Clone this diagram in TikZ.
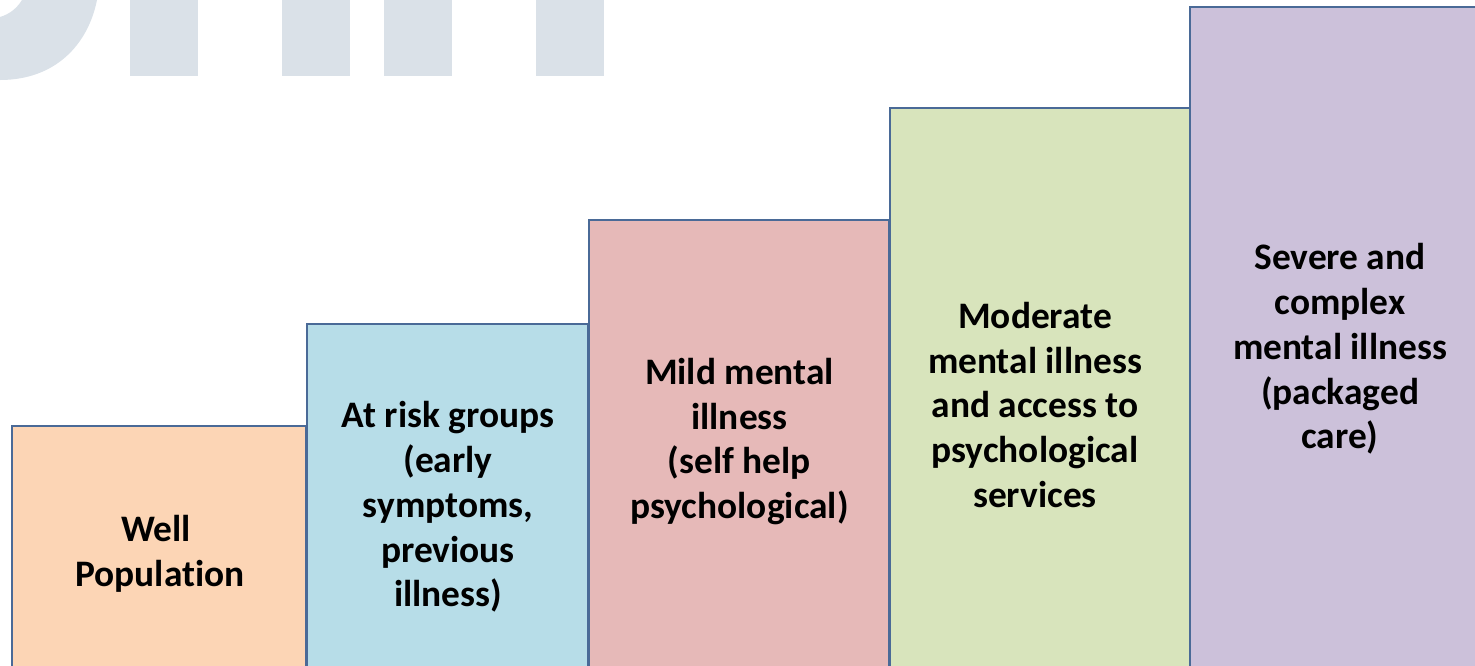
\documentclass[tikz,border=0pt]{standalone}
\usepackage{fontspec}
\setmainfont[Ligatures=NoCommon]{Carlito}
\definecolor{wm}{HTML}{DAE1E8}
\definecolor{edge}{HTML}{4A6A97}
\definecolor{c1}{HTML}{FCD5B5}
\definecolor{c2}{HTML}{B7DDE8}
\definecolor{c3}{HTML}{E6B9B8}
\definecolor{c4}{HTML}{D8E4BC}
\definecolor{c5}{HTML}{CCC1DA}
\tikzset{
  stepbox/.style={draw=edge,line width=1.1pt,inner sep=0pt,outer sep=0pt,anchor=north west},
  steplabel/.style={align=center,font=\fontsize{37.4}{44.7}\selectfont\bfseries,text=black,inner sep=0pt,anchor=center},
  wmbar/.style={fill=wm,draw=none}
}
\begin{document}
\begin{tikzpicture}[x=1pt,y=-1pt]
\useasboundingbox (0,0) rectangle (1475,665);
\clip (0,0) rectangle (1475,665);
% watermark
\fill[wm] (97,0) .. controls (88,45) and (55,80) .. (0,80) -- (0,17) .. controls (10,14) and (17,8) .. (22,0) -- cycle;
\fill[wmbar] (130,0) rectangle (198,76);
\fill[wmbar] (282,0) rectangle (350,76);
\fill[wmbar] (384,0) rectangle (452,76);
\fill[wmbar] (536,0) rectangle (604,76);
% boxes
\node[stepbox,fill=c1,minimum width=294pt,minimum height=260pt] (b1) at (12,426) {};
\node[stepbox,fill=c2,minimum width=281pt,minimum height=360pt] (b2) at (307,324) {};
\node[stepbox,fill=c3,minimum width=300pt,minimum height=460pt] (b3) at (589,220) {};
\node[stepbox,fill=c4,minimum width=300pt,minimum height=580pt] (b4) at (890,108) {};
\node[stepbox,fill=c5,minimum width=300pt,minimum height=680pt] (b5) at (1190,7) {};
% labels
\node[steplabel] (t1) at (160,553.5) {Well\hspace*{8pt}\\Population};
\node[steplabel] (t2) at (448,507) {At risk groups\\(early\\symptoms,\\previous\\illness)};
\node[steplabel] (t3) at (739.5,441.5) {Mild mental\\illness\\(self help\\psychological)};
\node[steplabel] (t4) at (1035,405) {Moderate\\mental illness\\and access to\\psychological\\services};
\node[steplabel] (t5) at (1340,349) {Severe and\\complex\\mental illness\\(packaged\\care)};
\end{tikzpicture}
\end{document}
